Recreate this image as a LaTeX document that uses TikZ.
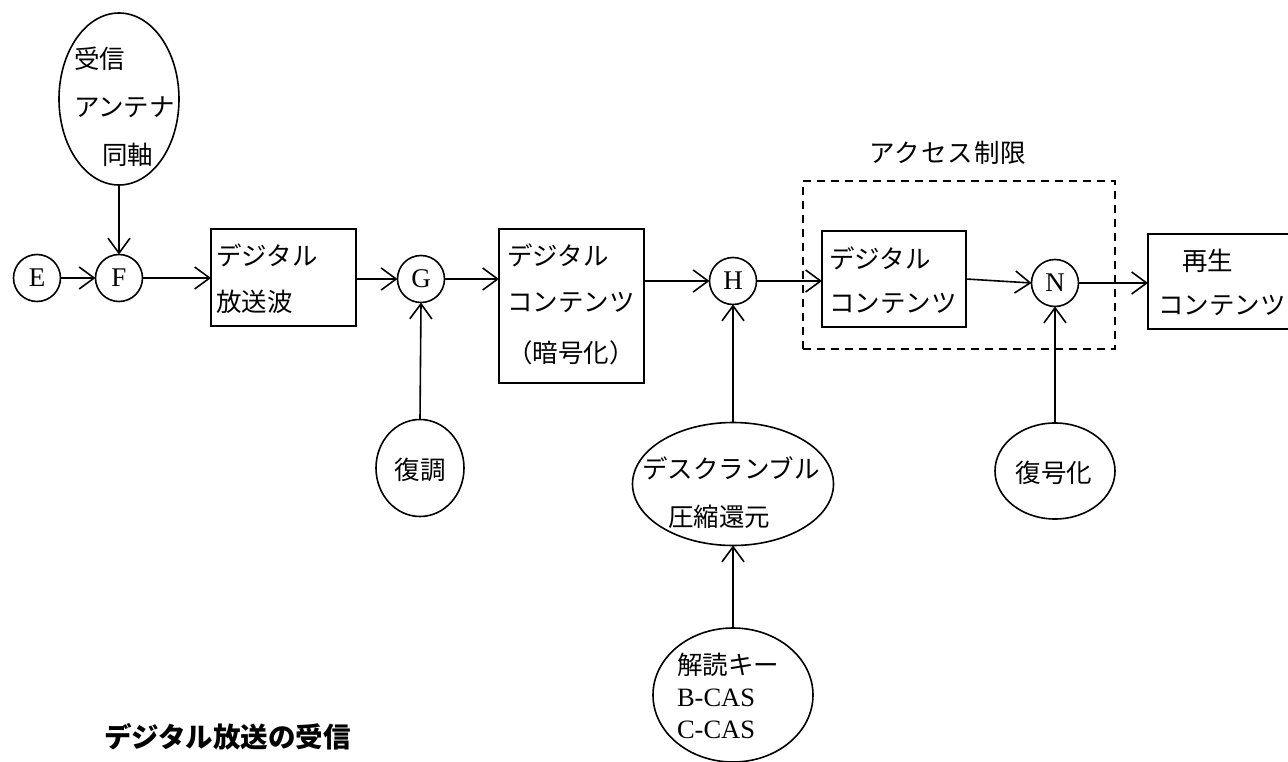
\documentclass[tikz,border=0pt]{standalone}
\usepackage{fontspec}
\setmainfont{Liberation Serif}
\newfontfamily\jp{Noto Sans CJK JP}
\usetikzlibrary{arrows.meta,shapes.geometric}
\begin{document}
\begin{tikzpicture}[x=1pt,y=-1pt,
  every node/.style={inner sep=0pt, outer sep=0pt},
  lw/.style={line width=1.6pt},
  arr/.style={lw, -{Straight Barb[length=15pt,width=22pt]}},
  circ/.style={draw, lw, circle, minimum size=47pt, font=\fontsize{27}{27}\selectfont},
  ell/.style={draw, lw, ellipse},
  box/.style={draw, lw, rectangle, anchor=north west},
  jt/.style={font=\jp\fontsize{25.5}{25.5}\selectfont, anchor=west},
  lt/.style={font=\fontsize{26.5}{26.5}\selectfont, anchor=west},
  ct/.style={font=\jp\fontsize{25.5}{25.5}\selectfont, anchor=center},
]
\useasboundingbox (0,0) rectangle (1288,762);

% main chain
\node[circ] (E) at (37,278) {E};
\node[circ] (F) at (119,278) {F};
\node[circ] (G) at (421,279) {G};
\node[circ] (H) at (733,281) {H};
\node[circ] (N) at (1055,283) {N};

% boxes
\node[box, minimum width=145pt, minimum height=97pt] (b1) at (211,229) {};
\node[box, minimum width=145pt, minimum height=154pt] (b2) at (499,229) {};
\node[box, minimum width=144pt, minimum height=96pt] (b3) at (822,231) {};
\node[box, minimum width=150pt, minimum height=95pt] (b4) at (1148,234) {};
\node[draw, lw, dash pattern=on 8pt off 6pt, anchor=north west,
      minimum width=312pt, minimum height=168pt] (acc) at (803,181) {};
\node[ct, font=\jp\fontsize{25.5}{25.5}\selectfont\addfontfeature{LetterSpace=4}] (accT) at (948,153) {アクセス制限};

% box texts
\node[jt] (b1a) at (216,255) {デジタル};
\node[jt] (b1b) at (216,302) {放送波};
\node[jt] (b2a) at (507,255) {デジタル};
\node[jt] (b2b) at (507,303) {コンテンツ};
\node[jt] (b2c) at (507,353) {（暗号化）};
\node[jt] (b3a) at (829,258) {デジタル};
\node[jt] (b3b) at (829,304) {コンテンツ};
\node[jt] (b4a) at (1182,261) {再生};
\node[jt] (b4b) at (1158,306) {コンテンツ};

% ellipses
\node[ell, minimum width=120pt, minimum height=172pt] (ant) at (119,99) {};
\node[jt] (antA) at (74,59) {受信};
\node[jt] (antB) at (74,107) {アンテナ};
\node[jt] (antC) at (102,155) {同軸};

\node[ell, minimum width=88pt, minimum height=97pt] (dem) at (420,468) {};
\node[ct] (demT) at (420,470) {復調};

\node[ell, minimum width=201pt, minimum height=123pt] (desc) at (733,484) {};
\node[jt] (descA) at (642,468) {デスクランブル};
\node[jt] (descB) at (668,517) {圧縮還元};

\node[ell, minimum width=160pt, minimum height=134pt] (key) at (733,695) {};
\node[jt] (keyA) at (677,665) {解読キー};
\node[lt] (keyB) at (677,698) {B-CAS};
\node[lt] (keyC) at (677,730) {C-CAS};

\node[ell, minimum width=120pt, minimum height=96pt] (dec) at (1055,471) {};
\node[ct] (decT) at (1054,473) {復号化};

% title
\node[font=\jp\bfseries\fontsize{27.5}{27.5}\selectfont, anchor=west] (title) at (104,737) {デジタル放送の受信};

% connectors
\draw[arr] (E.east) -- (F.west);
\draw[arr] (ant.south) -- (F.north);
\draw[arr] (F.east) -- (F.east -| b1.west);
\draw[arr] (G -| b1.east) -- (G.west);
\draw[arr] (dem.north) -- (G.south);
\draw[arr] (G.east) -- (G.east -| b2.west);
\draw[arr] (H -| b2.east) -- (H.west);
\draw[arr] (desc.north) -- (H.south);
\draw[arr] (key.north) -- (desc.south);
\draw[arr] (H.east) -- (H.east -| b3.west);
\draw[arr] (b3.east) -- (N.west);
\draw[arr] (N.east) -- (N.east -| b4.west);
\draw[arr] (dec.north) -- (N.south);
\end{tikzpicture}
\end{document}
